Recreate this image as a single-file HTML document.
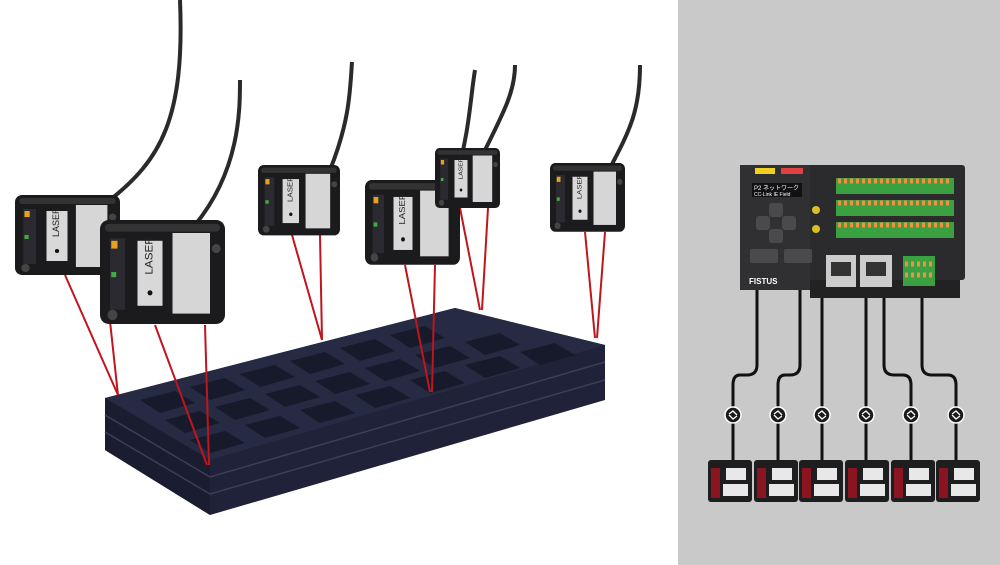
<!DOCTYPE html>
<html><head><meta charset="utf-8"><style>
html,body{margin:0;padding:0;width:1000px;height:565px;overflow:hidden;background:#fff}
svg{display:block}
text{font-family:"Liberation Sans","Noto Sans CJK JP",sans-serif}
</style></head><body>
<svg width="1000" height="565" viewBox="0 0 1000 565" xmlns="http://www.w3.org/2000/svg">
<defs>
<g id="sen">
<rect x="0" y="0" width="100" height="80" rx="7" fill="#1b1b1e"/>
<rect x="4" y="3" width="92" height="6" rx="3" fill="#333"/>
<rect x="8" y="14" width="12" height="55" fill="#2a2a30"/>
<rect x="9" y="16" width="5" height="6" fill="#e8a020"/>
<rect x="9" y="40" width="4" height="4" fill="#4a4"/>
<rect x="30" y="16" width="20" height="50" fill="#d8d8d8"/>
<text x="0" y="0" font-size="9" fill="#222" transform="translate(42,42) rotate(-90)">LASER</text>
<circle cx="40" cy="56" r="2" fill="#111"/>
<rect x="58" y="10" width="30" height="62" fill="#d6d6d6"/>
<circle cx="93" cy="22" r="3.5" fill="#444"/>
<circle cx="10" cy="73" r="4" fill="#444"/>
</g>
<g id="sm">
<rect x="0" y="0" width="44" height="42" rx="3" fill="#1e1e20"/>
<rect x="3" y="8" width="9" height="30" fill="#8a1520"/>
<rect x="18" y="8" width="20" height="12" fill="#e8e8e8"/>
<rect x="15" y="24" width="25" height="12" fill="#e8e8e8"/>
</g>
<g id="osc">
<circle r="8" fill="#1a1a1a" stroke="#fff" stroke-width="1.5"/>
<path d="M-4,-1 L0,-4 L4,0 M-4,0 L0,4 L4,1" stroke="#fff" stroke-width="1.3" fill="none"/>
</g>
</defs>
<rect x="678" y="0" width="322" height="565" fill="#c9c9c9"/>

<g stroke="#2a2a2a" stroke-width="4" fill="none">
<path d="M110,200 C160,160 185,120 180,0"/>
<path d="M195,225 C240,170 240,110 240,80"/>
<path d="M330,170 C350,120 350,90 352,62"/>
<path d="M455,182 C470,130 470,100 475,70"/>
<path d="M485,150 C505,110 515,90 515,65"/>
<path d="M610,168 C630,130 640,110 640,65"/>
</g>

<polygon points="105,398 455,308 605,345 605,400 210,515 105,450" fill="#1f2238"/>
<polygon points="105,398 455,308 605,345 210,460" fill="#262a42"/>
<polygon points="105,398 210,460 210,515 105,450" fill="#1a1d30"/>
<g stroke="#3a3f5a" stroke-width="1.5" fill="none">
<path d="M105,415 L210,477 L605,362"/>
<path d="M105,432 L210,494 L605,380"/>
</g>
<g fill="#171a2b">
<polygon points="140,400 175,391 195,403 160,413"/>
<polygon points="190,387 225,378 245,390 210,400"/>
<polygon points="240,374 275,365 295,377 260,387"/>
<polygon points="290,361 325,352 345,364 310,374"/>
<polygon points="340,348 375,339 395,351 360,361"/>
<polygon points="390,335 425,326 445,338 410,348"/>
<polygon points="165,420 200,411 220,423 185,433"/>
<polygon points="215,407 250,398 270,410 235,420"/>
<polygon points="265,394 300,385 320,397 285,407"/>
<polygon points="315,381 350,372 370,384 335,394"/>
<polygon points="365,368 400,359 420,371 385,381"/>
<polygon points="415,355 450,346 470,358 435,368"/>
<polygon points="465,342 500,333 520,345 485,355"/>
<polygon points="190,440 225,431 245,443 210,453"/>
<polygon points="245,425 280,416 300,428 265,438"/>
<polygon points="300,410 335,401 355,413 320,423"/>
<polygon points="355,395 390,386 410,398 375,408"/>
<polygon points="410,380 445,371 465,383 430,393"/>
<polygon points="465,365 500,356 520,368 485,378"/>
<polygon points="520,352 555,343 575,355 540,365"/>
</g>

<g stroke="#c0151c" stroke-width="2">
<line x1="65" y1="275" x2="118" y2="395"/><line x1="105" y1="275" x2="118" y2="395"/>
<line x1="155" y1="325" x2="207" y2="465"/><line x1="205" y1="325" x2="209" y2="465"/>
<line x1="292" y1="235" x2="322" y2="340"/><line x1="320" y1="235" x2="322" y2="340"/>
<line x1="405" y1="265" x2="430" y2="392"/><line x1="435" y1="265" x2="432" y2="392"/>
<line x1="460" y1="208" x2="480" y2="310"/><line x1="488" y1="208" x2="482" y2="310"/>
<line x1="585" y1="232" x2="595" y2="338"/><line x1="605" y1="232" x2="597" y2="338"/>
</g>

<use href="#sen" transform="translate(15,195) scale(1.05,1.0)"/>
<use href="#sen" transform="translate(100,220) scale(1.25,1.3)"/>
<use href="#sen" transform="translate(258,165) scale(0.82,0.88)"/>
<use href="#sen" transform="translate(365,180) scale(0.95,1.06)"/>
<use href="#sen" transform="translate(435,148) scale(0.65,0.75)"/>
<use href="#sen" transform="translate(550,163) scale(0.75,0.86)"/>

<g stroke="#111" stroke-width="3" fill="none">
<path d="M757,290 V365 Q757,375 747,375 H740 Q733,375 733,385 V462"/>
<path d="M800,290 V365 Q800,375 790,375 H785 Q778,375 778,385 V462"/>
<path d="M822,290 V462"/>
<path d="M866,290 V462"/>
<path d="M884,290 V365 Q884,375 894,375 H903 Q911,375 911,385 V462"/>
<path d="M922,290 V365 Q922,375 932,375 H948 Q956,375 956,385 V462"/>
</g>
<use href="#osc" transform="translate(733,415)"/>
<use href="#osc" transform="translate(778,415)"/>
<use href="#osc" transform="translate(822,415)"/>
<use href="#osc" transform="translate(866,415)"/>
<use href="#osc" transform="translate(911,415)"/>
<use href="#osc" transform="translate(956,415)"/>
<use href="#sm" transform="translate(708,460)"/>
<use href="#sm" transform="translate(754,460)"/>
<use href="#sm" transform="translate(799,460)"/>
<use href="#sm" transform="translate(845,460)"/>
<use href="#sm" transform="translate(891,460)"/>
<use href="#sm" transform="translate(936,460)"/>

<rect x="810" y="278" width="150" height="20" fill="#222"/>
<rect x="740" y="165" width="225" height="115" rx="3" fill="#2b2b2d"/>
<rect x="740" y="165" width="70" height="125" fill="#303032"/>
<rect x="755" y="168" width="20" height="6" fill="#f0d020"/>
<rect x="781" y="168" width="22" height="6" fill="#e04040"/>
<rect x="752" y="183" width="50" height="14" fill="#111"/>
<text x="754" y="190" font-size="6" fill="#fff">P2 ネットワーク</text>
<text x="754" y="196" font-size="5" fill="#fff">CC-Link IE Field</text>
<g fill="#4a4a4c"><rect x="769" y="203" width="14" height="14" rx="3"/><rect x="756" y="216" width="14" height="14" rx="3"/><rect x="782" y="216" width="14" height="14" rx="3"/><rect x="769" y="229" width="14" height="14" rx="3"/>
<rect x="750" y="249" width="28" height="14" rx="2"/><rect x="784" y="249" width="28" height="14" rx="2"/></g>
<text x="749" y="284" font-size="8" font-weight="bold" fill="#fff">FISTUS</text>
<circle cx="816" cy="210" r="4" fill="#d8c020"/><circle cx="816" cy="229" r="4" fill="#d8c020"/>
<g fill="#3aa040">
<rect x="836" y="178" width="118" height="16"/><rect x="836" y="200" width="118" height="16"/><rect x="836" y="222" width="118" height="16"/>
<rect x="903" y="256" width="32" height="30"/>
</g>
<g stroke="#f09040" stroke-width="5" stroke-dasharray="3,3">
<line x1="838" y1="181" x2="952" y2="181"/><line x1="838" y1="203" x2="952" y2="203"/><line x1="838" y1="225" x2="952" y2="225"/>
<line x1="905" y1="264" x2="933" y2="264"/><line x1="905" y1="275" x2="933" y2="275"/>
</g>
<rect x="826" y="255" width="30" height="32" fill="#ccc"/><rect x="860" y="255" width="32" height="32" fill="#ccc"/>
<rect x="831" y="262" width="20" height="14" fill="#333"/><rect x="866" y="262" width="20" height="14" fill="#333"/>
</svg>
</body></html>
